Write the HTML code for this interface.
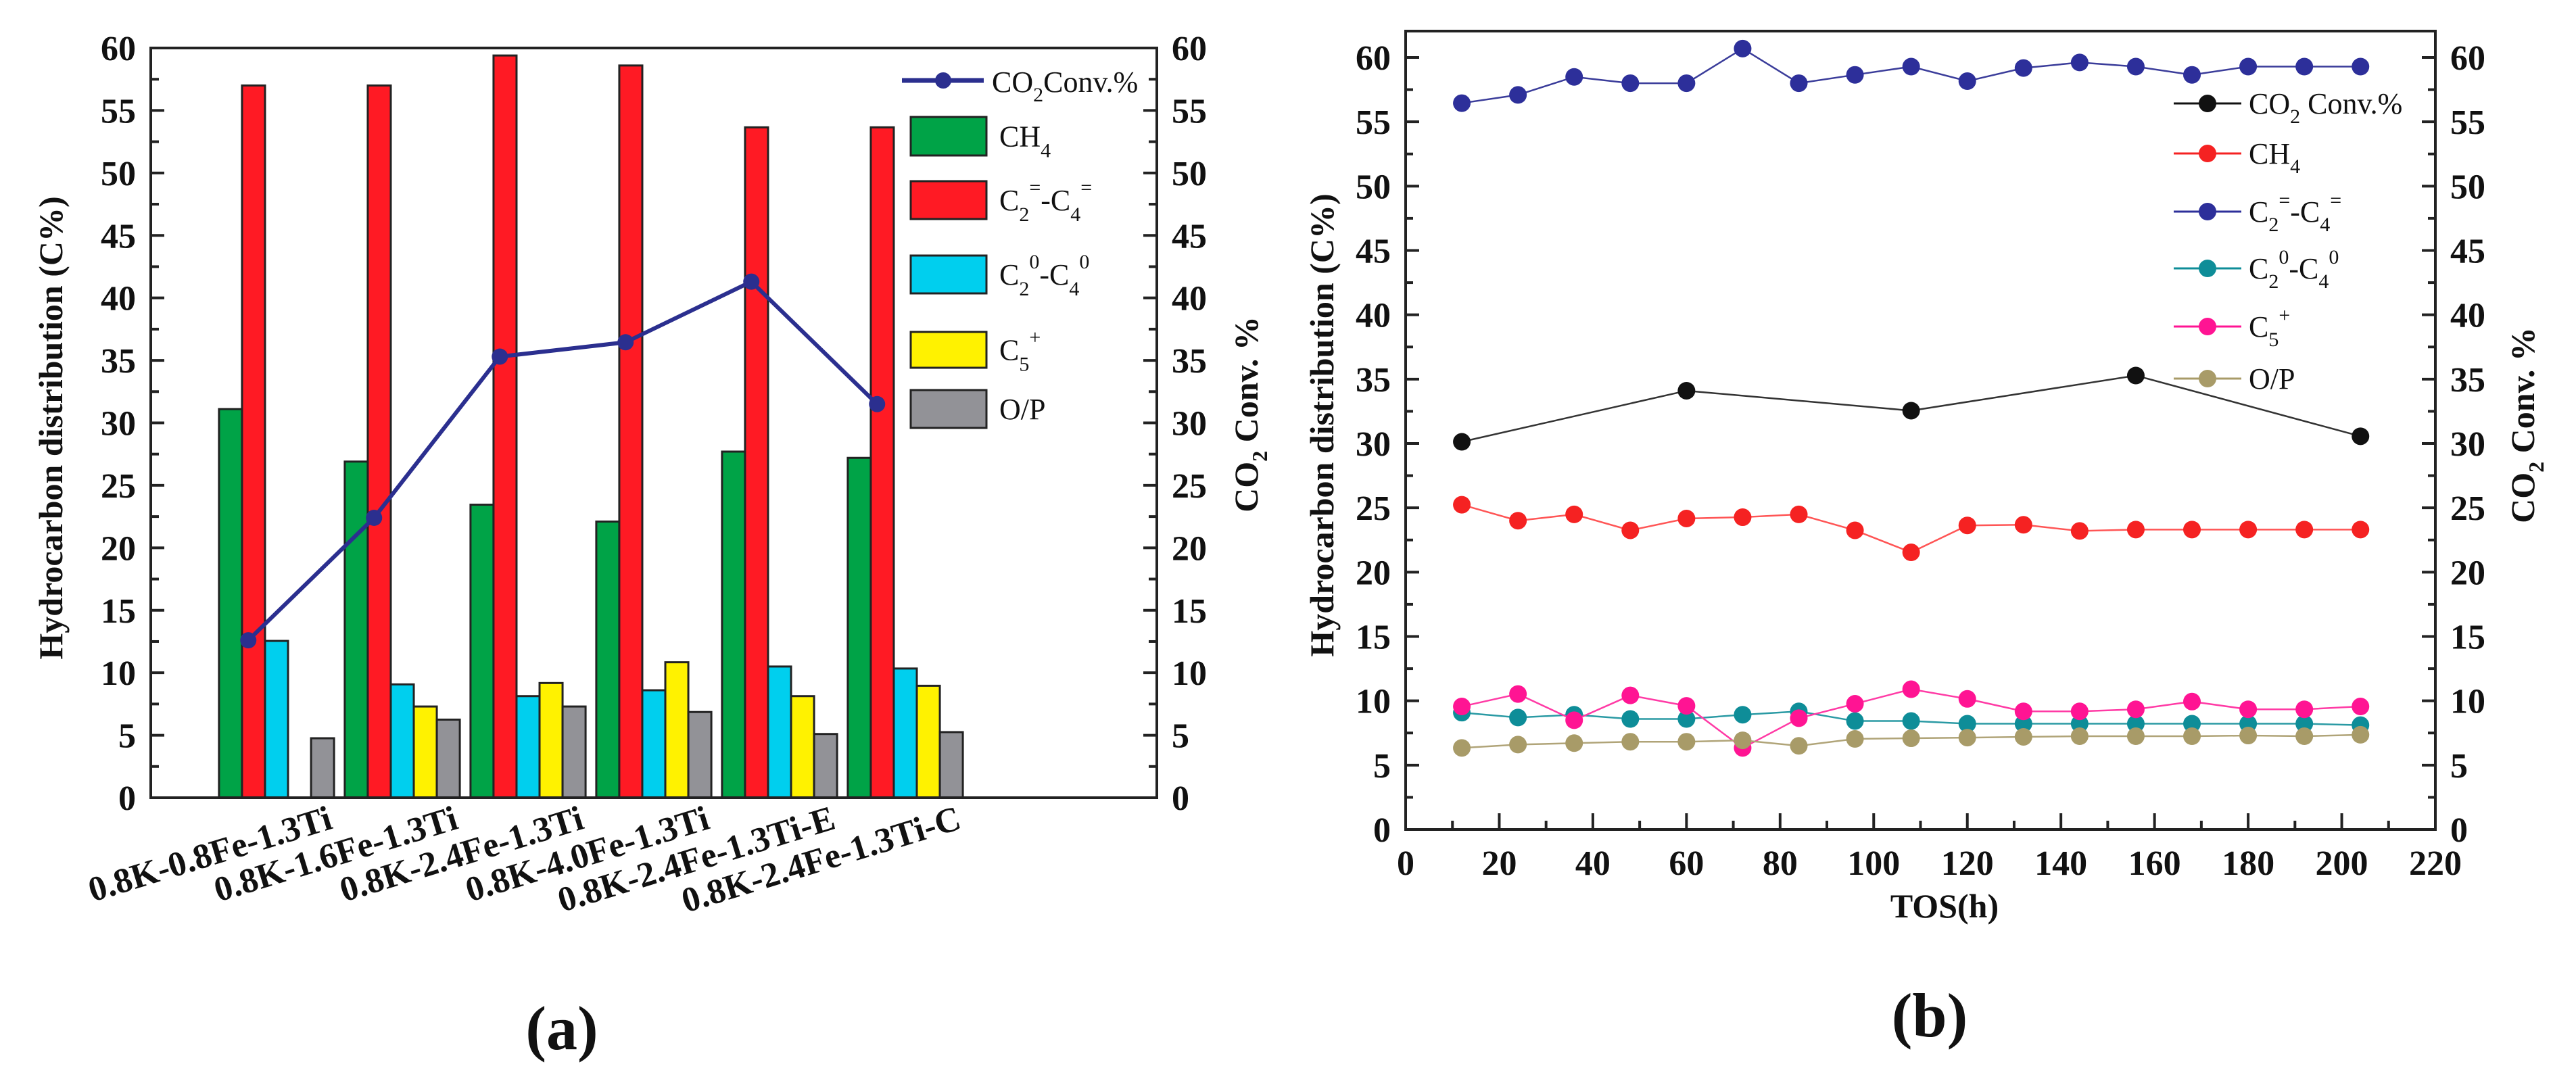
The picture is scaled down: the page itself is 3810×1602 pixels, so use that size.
<!DOCTYPE html>
<html><head><meta charset="utf-8">
<style>
html,body{margin:0;padding:0;background:#fff;}
svg{display:block;}
text{font-family:"Liberation Serif","DejaVu Serif",serif;fill:#111;}
.tk{font-size:52px;font-weight:bold;}
.lg{font-size:44px;}
.ttl{font-size:50px;font-weight:bold;}
</style></head>
<body>
<svg id="fig" xmlns="http://www.w3.org/2000/svg" width="3810" height="1602" viewBox="0 0 3810 1602"></svg>
<script>
// ---------- Chart (a) data ----------
const catsA = ["0.8K-0.8Fe-1.3Ti","0.8K-1.6Fe-1.3Ti","0.8K-2.4Fe-1.3Ti","0.8K-4.0Fe-1.3Ti","0.8K-2.4Fe-1.3Ti-E","0.8K-2.4Fe-1.3Ti-C"];
const ch4A = [31.1, 26.9, 23.45, 22.1, 27.7, 27.2];
const oleA = [57.0, 57.0, 59.4, 58.6, 53.65, 53.65];
const parA = [12.55, 9.07, 8.13, 8.6, 10.5, 10.34];
const c5A = [0, 7.3, 9.18, 10.84, 8.13, 8.96];
const opA = [4.76, 6.25, 7.3, 6.86, 5.1, 5.25];
const co2A = [12.6, 22.4, 35.3, 36.45, 41.3, 31.5];
const yTicksA = [0,5,10,15,20,25,30,35,40,45,50,55,60];

// ---------- Chart (b) data ----------
const tosB = [12,24,36,48,60,72,84,96,108,120,132,144,156,168,180,192,204];
const co2TosB = [12,60,108,156,204];
const co2B = [30.13,34.10,32.55,35.28,30.56];
const ch4B = [25.24,24.0,24.49,23.25,24.17,24.27,24.49,23.25,21.54,23.63,23.68,23.2,23.31,23.31,23.31,23.31,23.31];
const oleB = [56.45,57.09,58.49,58.0,58.0,60.69,58.0,58.65,59.29,58.16,59.18,59.61,59.29,58.65,59.29,59.29,59.29];
const parB = [9.08,8.7,8.92,8.59,8.59,8.92,9.18,8.43,8.43,8.22,8.22,8.22,8.22,8.22,8.22,8.22,8.11];
const c5B = [9.56,10.53,8.49,10.42,9.61,6.34,8.65,9.77,10.9,10.15,9.18,9.18,9.34,9.94,9.34,9.34,9.56];
const opB = [6.34,6.6,6.71,6.82,6.82,6.93,6.5,7.04,7.09,7.14,7.2,7.25,7.25,7.25,7.3,7.25,7.36];
const xTicksB = [0,20,40,60,80,100,120,140,160,180,200,220];
const yTicksB = [0,5,10,15,20,25,30,35,40,45,50,55,60];

const NS = "http://www.w3.org/2000/svg";
const svg = document.getElementById('fig');
function el(tag, attrs, parent){
  const e = document.createElementNS(NS, tag);
  for (const k in attrs) e.setAttribute(k, attrs[k]);
  (parent||svg).appendChild(e);
  return e;
}
function txt(str, attrs, parent){ const t = el('text', attrs, parent); t.textContent = str; return t; }

// ===== Chart (a) =====
const A = {l:223, r:1711, t:71, b:1180};
const xA = v => A.l + v*(A.r-A.l)/8;
const yA = v => A.b - v*(A.b-A.t)/60;
const bw = 0.183;
const gA = el('g', {});



const seriesA = [
  {name:'ch4', vals:ch4A, color:'#00a347'},
  {name:'olefin', vals:oleA, color:'#ff1a24'},
  {name:'paraffin', vals:parA, color:'#00cfee'},
  {name:'c5plus', vals:c5A, color:'#fff200'},
  {name:'op-ratio', vals:opA, color:'#929297'}
];
seriesA.forEach((s, k) => {
  s.vals.forEach((v, i) => {
    if (v <= 0) return;
    const x0 = xA(i + 1 + (k - 2.5) * bw);
    const r = el('rect', {x:x0, y:yA(v), width:xA(bw)-xA(0), height:yA(0)-yA(v), fill:s.color, stroke:'#222', 'stroke-width':3}, gA);
    
    
  });
});
const ptsA = co2A.map((v,i)=> xA(i + 1 - 1.5*bw + 0.05) + ',' + yA(v)).join(' ');
const lnA = el('polyline', {points:ptsA, fill:'none', stroke:'#2b2f8f', 'stroke-width':6}, gA);


co2A.forEach((v,i)=>{
  const c = el('circle', {cx:xA(i + 1 - 1.5*bw + 0.05), cy:yA(v), r:12, fill:'#2b2f8f'}, gA);
  
  
});
const frA = el('rect', {x:A.l, y:A.t, width:A.r-A.l, height:A.b-A.t, fill:'none', stroke:'#222', 'stroke-width':4}, gA);


yTicksA.forEach(v=>{
  el('line',{x1:A.l, x2:A.l+20, y1:yA(v), y2:yA(v), stroke:'#222','stroke-width':4}, gA);
  el('line',{x1:A.r, x2:A.r-20, y1:yA(v), y2:yA(v), stroke:'#222','stroke-width':4}, gA);
  if (v<60){
    el('line',{x1:A.l, x2:A.l+12, y1:yA(v+2.5), y2:yA(v+2.5), stroke:'#222','stroke-width':4}, gA);
    el('line',{x1:A.r, x2:A.r-12, y1:yA(v+2.5), y2:yA(v+2.5), stroke:'#222','stroke-width':4}, gA);
  }
  const t1 = txt(String(v), {x:A.l-22, y:yA(v)+18, 'text-anchor':'end', class:'tk'}, gA);
  
  
  const t2 = txt(String(v), {x:A.r+22, y:yA(v)+18, 'text-anchor':'start', class:'tk'}, gA);
  
  
});
catsA.forEach((c,i)=>{
  const x = xA(i+1) + 85, y = A.b + 45;
  const t = txt(c, {x:x, y:y, 'text-anchor':'end', class:'tk', transform:'rotate(-17 '+x+' '+y+')', style:'font-size:52px'}, gA);
  
  
});
const ytA = txt('Hydrocarbon distribution (C%)', {x:0, y:0, 'text-anchor':'middle', class:'ttl', transform:'translate(92 633) rotate(-90)'}, gA);


const yt2 = el('text', {x:0, y:0, 'text-anchor':'middle', class:'ttl', transform:'translate(1860 613) rotate(-90)'}, gA);


yt2.innerHTML = 'CO<tspan dy="14" font-size="32">2</tspan><tspan dy="-14"> Conv. %</tspan>';
const la = txt('(a)', {x:831, y:1552, 'text-anchor':'middle', style:'font-size:92px;font-weight:bold'}, gA);



const legA = el('g', {}, gA);


el('line',{x1:1334,x2:1455,y1:119,y2:119,stroke:'#2b2f8f','stroke-width':7}, legA);
el('circle',{cx:1395,cy:119,r:12,fill:'#2b2f8f'}, legA);
const lt0 = el('text',{x:1467,y:136,class:'lg'}, legA);
lt0.innerHTML = 'CO<tspan dy="14" font-size="30">2</tspan><tspan dy="-14">Conv.%</tspan>';
const boxes = [
  {y:173,h:57,c:'#00a347',html:'CH<tspan dy="16" font-size="30">4</tspan>'},
  {y:268,h:56,c:'#ff1a24',html:'C<tspan dy="16" font-size="30">2</tspan><tspan dy="-40" font-size="30">=</tspan><tspan dy="24">-C</tspan><tspan dy="16" font-size="30">4</tspan><tspan dy="-40" font-size="30">=</tspan>'},
  {y:378,h:56,c:'#00cfee',html:'C<tspan dy="16" font-size="30">2</tspan><tspan dy="-40" font-size="30">0</tspan><tspan dy="24">-C</tspan><tspan dy="16" font-size="30">4</tspan><tspan dy="-40" font-size="30">0</tspan>'},
  {y:491,h:53,c:'#fff200',html:'C<tspan dy="16" font-size="30">5</tspan><tspan dy="-40" font-size="30">+</tspan>'},
  {y:577,h:56,c:'#929297',html:'O/P'}
];
boxes.forEach((b,i)=>{
  el('rect',{x:1347,y:b.y,width:112,height:b.h,fill:b.c,stroke:'#222','stroke-width':3}, legA);
  const t = el('text',{x:1478,y:b.y+b.h/2+15,class:'lg'}, legA);
  t.innerHTML = b.html;
  
  
});

// ===== Chart (b) =====
const B = {l:2079, r:3602, t:46, b:1227};
const xB = v => B.l + v*(B.r-B.l)/220;
const yB = v => B.b - v*(1227-85)/60;
const gB = el('g', {});


const frB = el('rect', {x:B.l, y:B.t, width:B.r-B.l, height:B.b-B.t, fill:'none', stroke:'#222', 'stroke-width':4}, gB);


xTicksB.forEach(v=>{
  el('line',{x1:xB(v),x2:xB(v),y1:B.b,y2:B.b-24,stroke:'#222','stroke-width':4}, gB);
  if (v<220) el('line',{x1:xB(v+10),x2:xB(v+10),y1:B.b,y2:B.b-13,stroke:'#222','stroke-width':4}, gB);
  const t = txt(String(v), {x:xB(v), y:B.b+67, 'text-anchor':'middle', class:'tk'}, gB);
  
  
});
yTicksB.forEach(v=>{
  el('line',{x1:B.l,x2:B.l+20,y1:yB(v),y2:yB(v),stroke:'#222','stroke-width':4}, gB);
  el('line',{x1:B.r,x2:B.r-20,y1:yB(v),y2:yB(v),stroke:'#222','stroke-width':4}, gB);
  if (v<60){
    el('line',{x1:B.l,x2:B.l+11,y1:yB(v+2.5),y2:yB(v+2.5),stroke:'#222','stroke-width':4}, gB);
    el('line',{x1:B.r,x2:B.r-11,y1:yB(v+2.5),y2:yB(v+2.5),stroke:'#222','stroke-width':4}, gB);
  }
  const t1 = txt(String(v), {x:B.l-22, y:yB(v)+18, 'text-anchor':'end', class:'tk'}, gB);
  
  
  const t2 = txt(String(v), {x:B.r+22, y:yB(v)+18, 'text-anchor':'start', class:'tk'}, gB);
  
  
});
const seriesB = [
  {name:'co2-conversion', xs:co2TosB, vals:co2B, color:'#111111', line:'#333'},
  {name:'ch4', xs:tosB, vals:ch4B, color:'#f52222', line:'#f55'},
  {name:'olefin', xs:tosB, vals:oleB, color:'#2d2f9a', line:'#3a3c9a'},
  {name:'paraffin', xs:tosB, vals:parB, color:'#0e8d98', line:'#2a9aa4'},
  {name:'c5plus', xs:tosB, vals:c5B, color:'#ff1493', line:'#ff3aa5'},
  {name:'op-ratio', xs:tosB, vals:opB, color:'#a89b68', line:'#b0a478'}
];
seriesB.forEach(s=>{
  const pts = s.vals.map((v,i)=> xB(s.xs[i]) + ',' + yB(v)).join(' ');
  const pl = el('polyline',{points:pts,fill:'none',stroke:s.line,'stroke-width':2.5}, gB);
  
  
  s.vals.forEach((v,i)=>{
    const c = el('circle',{cx:xB(s.xs[i]),cy:yB(v),r:13,fill:s.color}, gB);
    
    
  });
});
const xtB = txt('TOS(h)', {x:2876, y:1357, 'text-anchor':'middle', class:'ttl'}, gB);


const ytB = txt('Hydrocarbon distribution (C%)', {x:0,y:0,'text-anchor':'middle',class:'ttl',transform:'translate(1972 629) rotate(-90)'}, gB);


const ytB2 = el('text', {x:0,y:0,'text-anchor':'middle',class:'ttl',transform:'translate(3748 629) rotate(-90)'}, gB);


ytB2.innerHTML = 'CO<tspan dy="14" font-size="32">2</tspan><tspan dy="-14"> Conv. %</tspan>';
const lb = txt('(b)', {x:2854, y:1533, 'text-anchor':'middle', style:'font-size:92px;font-weight:bold'}, gB);



const legB = el('g', {}, gB);


const legRows = [
  {y:153,c:'#111111',html:'CO<tspan dy="14" font-size="30">2</tspan><tspan dy="-14"> Conv.%</tspan>'},
  {y:227,c:'#f52222',html:'CH<tspan dy="14" font-size="30">4</tspan>'},
  {y:313,c:'#2d2f9a',html:'C<tspan dy="14" font-size="30">2</tspan><tspan dy="-36" font-size="30">=</tspan><tspan dy="22">-C</tspan><tspan dy="14" font-size="30">4</tspan><tspan dy="-36" font-size="30">=</tspan>'},
  {y:397,c:'#0e8d98',html:'C<tspan dy="14" font-size="30">2</tspan><tspan dy="-36" font-size="30">0</tspan><tspan dy="22">-C</tspan><tspan dy="14" font-size="30">4</tspan><tspan dy="-36" font-size="30">0</tspan>'},
  {y:483,c:'#ff1493',html:'C<tspan dy="14" font-size="30">5</tspan><tspan dy="-36" font-size="30">+</tspan>'},
  {y:560,c:'#a89b68',html:'O/P'}
];
legRows.forEach((r,i)=>{
  el('line',{x1:3215,x2:3315,y1:r.y,y2:r.y,stroke:r.c,'stroke-width':3}, legB);
  el('circle',{cx:3265,cy:r.y,r:13,fill:r.c}, legB);
  const t = el('text',{x:3326,y:r.y+15,class:'lg'}, legB);
  t.innerHTML = r.html;
  
  
});
</script>
</body></html>
